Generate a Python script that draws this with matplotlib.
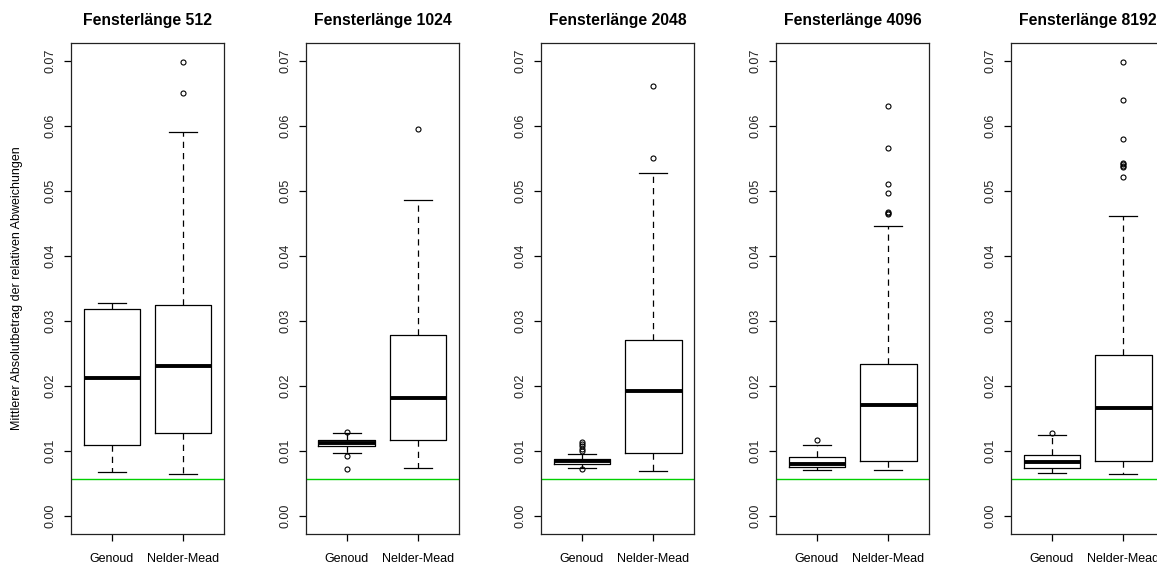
import matplotlib
matplotlib.use('Agg')
import matplotlib.pyplot as plt
from matplotlib.ticker import FormatStrFormatter

plt.rcParams['font.family'] = ['Liberation Sans', 'DejaVu Sans']

windows = [512, 1024, 2048, 4096, 8192]
methods = ['Genoud', 'Nelder-Mead']

# Genoud: box statistics per window length
genoud_lo = [0.0067, 0.0097, 0.0074, 0.0070, 0.0066]
genoud_q1 = [0.0109, 0.0107, 0.0080, 0.0075, 0.0074]
genoud_med = [0.0212, 0.0112, 0.0084, 0.0080, 0.0083]
genoud_q3 = [0.0318, 0.0116, 0.0088, 0.0090, 0.0094]
genoud_hi = [0.0327, 0.0127, 0.0095, 0.0109, 0.0125]
genoud_out = [
    [],
    [0.0129, 0.0092, 0.0072],
    [0.0099, 0.0103, 0.0107, 0.0110, 0.0114, 0.0072],
    [0.0117],
    [0.0127],
]

# Nelder-Mead: box statistics per window length
nm_lo = [0.0065, 0.0074, 0.0069, 0.0070, 0.0065]
nm_q1 = [0.0128, 0.0117, 0.0096, 0.0085, 0.0085]
nm_med = [0.0230, 0.0182, 0.0192, 0.0171, 0.0166]
nm_q3 = [0.0325, 0.0278, 0.0270, 0.0233, 0.0247]
nm_hi = [0.0590, 0.0486, 0.0527, 0.0446, 0.0461]
nm_out = [
    [0.0650, 0.0699],
    [0.0595],
    [0.0550, 0.0662],
    [0.0464, 0.0466, 0.0468, 0.0496, 0.0510, 0.0566, 0.0630],
    [0.0522, 0.0536, 0.0539, 0.0541, 0.0543, 0.0580, 0.0640, 0.0699],
]

ref_level = 0.0057
yticks = [0.00, 0.01, 0.02, 0.03, 0.04, 0.05, 0.06, 0.07]


def box_stats(lo, q1, med, q3, hi, out):
    return dict(whislo=lo, q1=q1, med=med, q3=q3, whishi=hi, fliers=out)


W, H = 1157, 568
fig = plt.figure(figsize=(W / 100, H / 100), dpi=100)

ax_top, ax_bot = 42.7, 534.0
ax_w = 153.6
fs = 9.0

for i, win in enumerate(windows):
    left = 70.7 + 235.0 * i
    ax = fig.add_axes([left / W, 1 - ax_bot / H, ax_w / W, (ax_bot - ax_top) / H])

    stats = [
        box_stats(genoud_lo[i], genoud_q1[i], genoud_med[i], genoud_q3[i], genoud_hi[i], genoud_out[i]),
        box_stats(nm_lo[i], nm_q1[i], nm_med[i], nm_q3[i], nm_hi[i], nm_out[i]),
    ]
    ax.bxp(stats, positions=[1, 2], widths=0.8, capwidths=0.4, showfliers=True,
           boxprops=dict(color='black', lw=0.9),
           medianprops=dict(color='black', lw=2.8, solid_capstyle='butt'),
           whiskerprops=dict(color='black', lw=0.9, linestyle=(0, (5, 4))),
           capprops=dict(color='black', lw=0.9),
           flierprops=dict(marker='o', markersize=3.6, markerfacecolor='none',
                           markeredgecolor='black', markeredgewidth=0.8))

    ax.axhline(ref_level, color='#00d000', lw=1.0)

    ax.set_xlim(0.42, 2.58)
    ax.set_ylim(-0.0028, 0.0728)
    ax.set_yticks(yticks)
    ax.yaxis.set_major_formatter(FormatStrFormatter('%.2f'))
    ax.set_xticks([1, 2])
    ax.set_xticklabels(methods)

    ax.tick_params(axis='both', direction='out', length=5, width=0.9, labelsize=fs, colors='black')
    ax.tick_params(axis='y', labelrotation=90, pad=5)
    ax.tick_params(axis='x', pad=9)
    for lab in ax.get_yticklabels():
        lab.set_va('center')
        lab.set_color('#222222')

    for sp in ax.spines.values():
        sp.set_color('#222222')
        sp.set_linewidth(0.9)

    ax.text(0.5, 1.046, f'Fensterlänge {win}', transform=ax.transAxes,
            ha='center', va='center', fontsize=11.3, fontweight='bold')

fig.text(17 / W, 1 - (ax_top + ax_bot) / 2 / H,
         'Mittlerer Absolutbetrag der relativen Abweichungen',
         rotation=90, ha='center', va='center', fontsize=fs)

fig.savefig('out.png', dpi=100)
